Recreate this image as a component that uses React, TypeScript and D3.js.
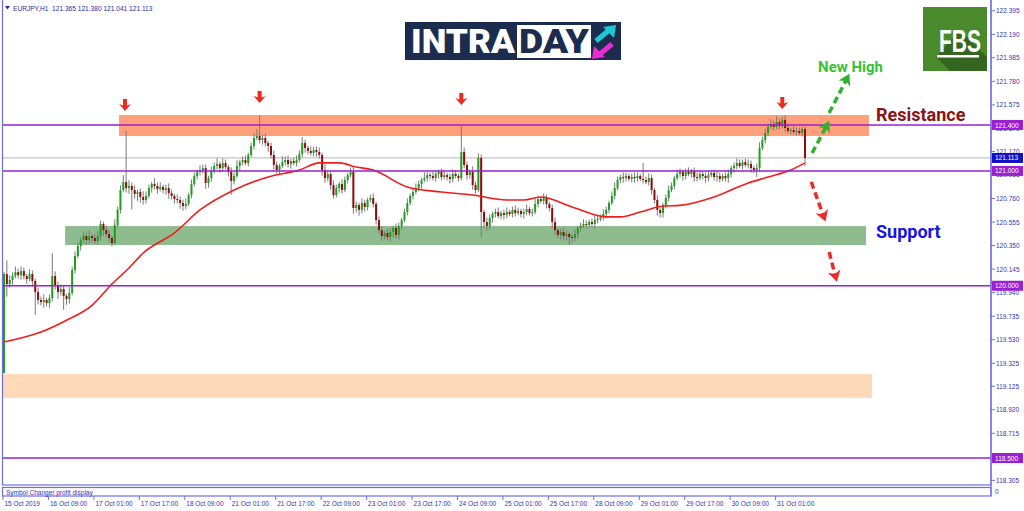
import React, { useRef, useEffect } from 'react';
import * as d3 from 'd3';

// EURJPY H1, 15 Oct 2019 - 31 Oct 2019
const firstOpen = 119.24;
const closes = [
  120.102, 120.015, 120.050, 120.085, 120.119, 120.093, 120.128, 120.085, 120.058, 120.102,
  120.041, 119.945, 119.876, 119.858, 119.876, 119.849, 119.893, 120.085, 120.006, 119.945,
  119.971, 119.910, 119.884, 119.937, 120.137, 120.259, 120.346, 120.398, 120.433, 120.398,
  120.433, 120.416, 120.390, 120.433, 120.538, 120.485, 120.451, 120.416, 120.372, 120.529,
  120.660, 120.834, 120.903, 120.851, 120.869, 120.834, 120.799, 120.816, 120.773, 120.747,
  120.782, 120.851, 120.886, 120.869, 120.842, 120.860, 120.834, 120.851, 120.808, 120.782,
  120.755, 120.747, 120.721, 120.694, 120.712, 120.790, 120.886, 120.956, 120.991, 121.008,
  121.025, 120.895, 120.938, 120.999, 121.043, 121.060, 121.025, 121.069, 121.034, 120.991,
  120.912, 120.956, 121.043, 121.078, 121.095, 121.069, 121.139, 121.217, 121.287, 121.304,
  121.269, 121.287, 121.243, 121.217, 121.139, 121.052, 121.008, 121.043, 121.078, 121.095,
  121.060, 121.086, 121.069, 121.095, 121.147, 121.243, 121.200, 121.174, 121.156, 121.182,
  121.165, 121.139, 121.008, 120.938, 120.973, 120.877, 120.790, 120.851, 120.886, 120.834,
  120.921, 120.964, 120.991, 120.677, 120.703, 120.660, 120.721, 120.686, 120.747, 120.764,
  120.712, 120.572, 120.485, 120.433, 120.459, 120.424, 120.468, 120.503, 120.442, 120.520,
  120.572, 120.642, 120.721, 120.782, 120.816, 120.851, 120.886, 120.921, 120.938, 120.964,
  120.956, 120.938, 120.973, 120.991, 120.947, 120.964, 120.947, 120.930, 120.973, 120.956,
  120.938, 121.165, 121.052, 120.964, 120.991, 120.877, 120.834, 121.113, 120.642, 120.555,
  120.520, 120.590, 120.625, 120.642, 120.607, 120.633, 120.616, 120.642, 120.625, 120.660,
  120.633, 120.651, 120.625, 120.642, 120.668, 120.633, 120.642, 120.712, 120.755, 120.738,
  120.764, 120.712, 120.677, 120.555, 120.485, 120.442, 120.468, 120.433, 120.451, 120.424,
  120.416, 120.451, 120.503, 120.520, 120.538, 120.529, 120.555, 120.538, 120.572, 120.581,
  120.599, 120.625, 120.660, 120.721, 120.782, 120.851, 120.921, 120.947, 120.938, 120.956,
  120.930, 120.947, 120.938, 120.956, 120.930, 120.921, 120.903, 120.938, 120.834, 120.747,
  120.660, 120.633, 120.703, 120.764, 120.834, 120.869, 120.938, 120.973, 120.991, 120.956,
  120.991, 120.973, 120.999, 120.947, 120.938, 120.973, 120.956, 120.938, 120.964, 120.982,
  120.947, 120.956, 120.930, 120.956, 120.938, 120.973, 121.025, 121.043, 121.069, 121.043,
  121.078, 121.052, 121.060, 121.025, 121.008, 121.025, 121.200, 121.269, 121.330, 121.383,
  121.409, 121.383, 121.426, 121.391, 121.444, 121.374, 121.348, 121.356, 121.339, 121.348,
  121.330, 121.365, 121.113,
];
// wick lengths in pips above / below the body
const upWick = [
  2, 12, 4, 3, 5, 3, 4, 3, 2, 4, 3, 2, 4, 3, 5, 2, 3, 20, 4, 3,
  4, 3, 2, 5, 3, 4, 3, 2, 4, 3, 5, 2, 3, 4, 3, 2, 4, 3, 2, 5,
  3, 4, 6, 45, 5, 3, 4, 2, 3, 5, 4, 3, 2, 5, 3, 4, 2, 3, 4, 3,
  2, 4, 3, 3, 5, 2, 4, 3, 2, 4, 3, 3, 2, 4, 3, 5, 2, 4, 3, 2,
  4, 3, 5, 2, 3, 4, 2, 3, 4, 6, 18, 3, 4, 2, 3, 4, 3, 2, 5, 3,
  4, 2, 3, 4, 3, 5, 3, 2, 4, 3, 3, 4, 2, 5, 3, 2, 4, 3, 2, 4,
  3, 2, 4, 4, 3, 2, 4, 3, 2, 3, 4, 2, 3, 3, 2, 4, 3, 2, 4, 3,
  2, 3, 4, 2, 3, 4, 3, 2, 5, 3, 2, 4, 3, 2, 3, 4, 2, 3, 4, 3,
  2, 23, 4, 3, 2, 5, 3, 4, 3, 2, 4, 3, 2, 3, 4, 2, 3, 4, 2, 3,
  4, 3, 2, 3, 4, 2, 3, 5, 3, 2, 4, 3, 2, 3, 4, 2, 3, 4, 3, 2,
  3, 4, 2, 3, 4, 3, 2, 3, 4, 3, 2, 4, 3, 2, 4, 5, 3, 2, 4, 3,
  2, 3, 4, 3, 2, 14, 3, 4, 3, 2, 4, 3, 2, 3, 4, 3, 2, 4, 3, 2,
  3, 4, 2, 3, 4, 3, 2, 3, 4, 2, 3, 4, 3, 2, 3, 4, 2, 3, 4, 3,
  2, 3, 4, 3, 2, 4, 5, 3, 4, 3, 4, 3, 5, 3, 3, 4, 3, 2, 4, 3,
  3, 2, 2,
];
const downWick = [
  0, 11, 3, 4, 2, 3, 4, 3, 4, 2, 5, 20, 4, 3, 5, 3, 4, 3, 4, 6,
  3, 12, 5, 4, 2, 3, 2, 4, 3, 4, 3, 4, 2, 3, 4, 5, 3, 4, 3, 2,
  2, 3, 2, 4, 5, 17, 4, 6, 5, 4, 3, 2, 4, 3, 4, 2, 3, 4, 5, 3,
  4, 3, 5, 4, 3, 2, 3, 2, 3, 3, 3, 5, 4, 3, 2, 3, 4, 3, 2, 4,
  12, 3, 2, 4, 3, 2, 3, 2, 3, 2, 3, 4, 3, 5, 3, 4, 3, 4, 2, 3,
  3, 4, 2, 3, 2, 3, 4, 3, 2, 3, 4, 3, 5, 4, 3, 4, 3, 2, 4, 3,
  2, 3, 2, 5, 4, 5, 3, 4, 3, 2, 3, 4, 3, 4, 3, 3, 4, 5, 3, 4,
  3, 2, 3, 2, 3, 2, 3, 4, 2, 3, 3, 2, 3, 4, 3, 2, 3, 4, 3, 2,
  3, 2, 3, 4, 3, 4, 3, 2, 22, 5, 4, 3, 4, 3, 2, 3, 4, 3, 2, 3,
  3, 2, 3, 4, 3, 2, 3, 2, 3, 2, 3, 4, 3, 5, 4, 3, 4, 3, 4, 7,
  4, 3, 4, 3, 2, 3, 2, 3, 4, 3, 2, 3, 4, 3, 2, 3, 2, 3, 4, 3,
  2, 3, 4, 3, 2, 3, 2, 3, 4, 3, 5, 4, 4, 3, 3, 2, 3, 2, 3, 4,
  3, 2, 3, 4, 3, 2, 3, 4, 3, 2, 3, 4, 3, 2, 3, 4, 3, 4, 3, 2,
  3, 2, 3, 4, 3, 6, 3, 2, 3, 3, 2, 3, 2, 3, 2, 3, 2, 3, 2, 3,
  2, 3, 7,
];

// moving average read at a few bars
const maBars = [0, 6, 13, 22, 31, 38, 44, 49, 60, 69, 81, 93, 104, 111, 118, 124, 130, 142, 154, 165,
  177, 183, 189, 200, 212, 217, 224, 232, 238, 250, 262, 269, 277, 282];
const maValues = [119.51, 119.545, 119.597, 119.70, 119.83, 120.015, 120.155, 120.285, 120.46, 120.66,
  120.834, 120.947, 121.008, 121.07, 121.07, 121.034, 121.008, 120.86, 120.816, 120.79,
  120.747, 120.747, 120.773, 120.686, 120.60, 120.60, 120.642, 120.694, 120.70, 120.773,
  120.895, 120.947, 121.008, 121.07];

const priceTicks = [122.395, 122.190, 121.985, 121.780, 121.575, 121.370, 121.170, 120.965, 120.760,
  120.555, 120.350, 120.145, 119.940, 119.735, 119.530, 119.325, 119.125, 118.920, 118.715, 118.305];
const timeLabels = ['15 Oct 2019', '16 Oct 09:00', '17 Oct 01:00', '17 Oct 17:00', '18 Oct 09:00',
  '21 Oct 01:00', '21 Oct 17:00', '22 Oct 09:00', '23 Oct 01:00', '23 Oct 17:00', '24 Oct 09:00',
  '25 Oct 01:00', '25 Oct 17:00', '28 Oct 09:00', '29 Oct 01:00', '29 Oct 17:00', '30 Oct 09:00', '31 Oct 01:00'];
const barsPerLabel = 16;

const levels = [121.4, 121.0, 120.0, 118.5];
const lastPrice = 121.113;
const header = 'EURJPY,H1  121.365 121.380 121.041 121.113';

// zones: [fromBar, toBar, lowPrice, highPrice]
const resistanceZone = [40.5, 304.5, 121.304, 121.487];
const supportZone = [21.5, 303.5, 120.355, 120.520];
const lowerZone = [-0.4, 305.6, 119.022, 119.231];

// top markers [bar, tip price]
const peakMarks = [[42.6, 121.522], [90, 121.592], [161, 121.574], [274, 121.539]];
// dashed arrows [fromBar, fromPrice, toBar, toPrice]
const upArrows = [[284.5, 121.156, 289.4, 121.383], [290.5, 121.505, 296.5, 121.792]];
const downArrows = [[284.2, 120.904, 288.4, 120.616], [290.5, 120.294, 292.6, 120.093]];

function Chart() {
  const ref = useRef<SVGSVGElement>(null);

  useEffect(() => {
    const svg = d3.select(ref.current);
    svg.selectAll('*').remove();

    const width = 1024, height = 511;
    const axisX = 991, mainBottom = 485;
    const font = "'Liberation Sans', Arial, sans-serif";
    const frameColor = '#6e6ee2';
    const textBlue = '#3434b8';

    svg.attr('width', width).attr('height', height).style('display', 'block').style('background', '#fff');

    const x = d3.scaleLinear().domain([0, closes.length - 1]).range([4, 805]);
    const y = d3.scaleLinear().domain([118.5, 121.4]).range([458, 125]);

    svg.append('clipPath').attr('id', 'plot')
      .append('rect').attr('x', 3).attr('y', 0).attr('width', axisX - 3).attr('height', mainBottom);

    const plot = svg.append('g').attr('clip-path', 'url(#plot)');

    const zone = (z, color) => {
      plot.append('rect')
        .attr('x', x(z[0])).attr('width', x(z[1]) - x(z[0]))
        .attr('y', y(z[3])).attr('height', y(z[2]) - y(z[3]))
        .attr('fill', color);
    };
    zone(lowerZone, '#ffdab9');
    zone(supportZone, '#8fbc8f');
    zone(resistanceZone, '#ffa07a');

    plot.append('line')
      .attr('x1', 3).attr('x2', axisX).attr('y1', y(lastPrice)).attr('y2', y(lastPrice))
      .attr('stroke', '#c4c4c4').attr('stroke-width', 1.3);

    const candles = closes.map((c, i) => {
      const o = i === 0 ? firstOpen : closes[i - 1];
      return { i, o, c, h: Math.max(o, c) + upWick[i] / 100, l: Math.min(o, c) - downWick[i] / 100 };
    });

    plot.selectAll('.wick').data(candles).enter().append('line')
      .attr('x1', (d) => x(d.i)).attr('x2', (d) => x(d.i))
      .attr('y1', (d) => y(d.h)).attr('y2', (d) => y(d.l))
      .attr('stroke', '#7a7a7a').attr('stroke-width', 1);

    plot.selectAll('.body').data(candles).enter().append('rect')
      .attr('x', (d) => x(d.i) - 1).attr('width', 2)
      .attr('y', (d) => y(Math.max(d.o, d.c)))
      .attr('height', (d) => Math.max(1, Math.abs(y(d.o) - y(d.c))))
      .attr('fill', (d) => (d.c >= d.o ? '#1f9e1f' : '#8b0d0d'));

    const ma = d3.line()
      .x((d) => x(d[0]))
      .y((d) => y(d[1]))
      .curve(d3.curveMonotoneX);
    plot.append('path')
      .datum(maBars.map((b, k) => [b, maValues[k]]))
      .attr('fill', 'none').attr('stroke', '#f21c1c').attr('stroke-width', 1.6)
      .attr('d', ma);

    levels.forEach((lv) => {
      plot.append('line')
        .attr('x1', 3).attr('x2', axisX).attr('y1', y(lv)).attr('y2', y(lv))
        .attr('stroke', '#9a1fd0').attr('stroke-width', 1.6);
    });

    // top markers
    peakMarks.forEach(([b, p]) => {
      const tx = x(b), ty = y(p);
      svg.append('path')
        .attr('d', `M${tx},${ty} L${tx - 6},${ty - 7} L${tx - 2},${ty - 5.5} L${tx - 2},${ty - 12} L${tx + 2},${ty - 12} L${tx + 2},${ty - 5.5} L${tx + 6},${ty - 7} Z`)
        .attr('fill', '#f0281e');
    });

    const dashedArrow = (a, color) => {
      const x1 = x(a[0]), y1 = y(a[1]), x2 = x(a[2]), y2 = y(a[3]);
      svg.append('line')
        .attr('x1', x1).attr('y1', y1).attr('x2', x2).attr('y2', y2)
        .attr('stroke', color).attr('stroke-width', 3.5).attr('stroke-dasharray', '7,4');
      const ang = Math.atan2(y2 - y1, x2 - x1);
      const ux = Math.cos(ang), uy = Math.sin(ang);
      const px = -uy, py = ux;
      const tip = [x2 + ux * 7, y2 + uy * 7];
      const notch = [x2 - ux * 1, y2 - uy * 1];
      const left = [x2 - ux * 4 + px * 6.5, y2 - uy * 4 + py * 6.5];
      const right = [x2 - ux * 4 - px * 6.5, y2 - uy * 4 - py * 6.5];
      svg.append('path')
        .attr('d', `M${tip[0]},${tip[1]} L${left[0]},${left[1]} L${notch[0]},${notch[1]} L${right[0]},${right[1]} Z`)
        .attr('fill', color);
    };
    upArrows.forEach((a) => dashedArrow(a, '#2eb22e'));
    downArrows.forEach((a) => dashedArrow(a, '#ee2a2a'));

    svg.append('text')
      .attr('x', x(307)).attr('y', y(121.435))
      .attr('font-family', 'Roboto, sans-serif').attr('font-weight', 'bold').attr('font-size', 18)
      .attr('fill', '#8b1515').text('Resistance');
    svg.append('text')
      .attr('x', x(307)).attr('y', y(120.416))
      .attr('font-family', 'Roboto, sans-serif').attr('font-weight', 'bold').attr('font-size', 18)
      .attr('fill', '#1414e6').text('Support');
    svg.append('text')
      .attr('x', x(286.6)).attr('y', y(121.862))
      .attr('font-family', 'Roboto, sans-serif').attr('font-weight', 'bold').attr('font-size', 15)
      .attr('fill', '#35c235').text('New High');

    // INTRADAY logo
    const logo = svg.append('g');
    logo.append('rect').attr('x', 405).attr('y', 22).attr('width', 216).attr('height', 38).attr('fill', '#1b2c4f');
    logo.append('text').attr('x', 411).attr('y', 53)
      .attr('font-family', 'Roboto, sans-serif').attr('font-weight', 900).attr('font-size', 33)
      .attr('textLength', 104).attr('lengthAdjust', 'spacingAndGlyphs')
      .attr('fill', '#fff').text('INTRA');
    logo.append('rect').attr('x', 517).attr('y', 25).attr('width', 74).attr('height', 33).attr('fill', '#fff');
    logo.append('text').attr('x', 519).attr('y', 53)
      .attr('font-family', 'Roboto, sans-serif').attr('font-weight', 900).attr('font-size', 33)
      .attr('textLength', 70).attr('lengthAdjust', 'spacingAndGlyphs')
      .attr('fill', '#1b2c4f').text('DAY');
    logo.append('line').attr('x1', 596).attr('y1', 41).attr('x2', 608).attr('y2', 31)
      .attr('stroke', '#1ec8d2').attr('stroke-width', 5);
    logo.append('path').attr('d', 'M616,25 L603,27 L614,38 Z').attr('fill', '#1ec8d2');
    logo.append('line').attr('x1', 612).attr('y1', 44).attr('x2', 600).attr('y2', 54)
      .attr('stroke', '#ea2bd0').attr('stroke-width', 5);
    logo.append('path').attr('d', 'M592,59 L605,57 L594,46 Z').attr('fill', '#ea2bd0');

    // FBS logo
    const fbs = svg.append('g');
    fbs.append('rect').attr('x', 923).attr('y', 7).attr('width', 64).attr('height', 64).attr('fill', '#4b8a2c');
    fbs.append('path').attr('d', 'M960,30 L987,57 L987,71 L950,71 L936,57 Z').attr('fill', '#35661f');
    fbs.append('text')
      .attr('transform', 'translate(939,52) scale(1,1.45)')
      .attr('font-family', "'Liberation Sans Narrow', 'Liberation Sans', sans-serif").attr('font-weight', 'bold')
      .attr('font-size', 21)
      .attr('fill', '#fff').text('FBS');
    fbs.append('rect').attr('x', 937).attr('y', 55).attr('width', 42).attr('height', 2.5).attr('fill', '#fff');

    // frames
    svg.append('rect').attr('x', 2.5).attr('y', -1).attr('width', axisX - 2.5).attr('height', mainBottom + 1)
      .attr('fill', 'none').attr('stroke', frameColor).attr('stroke-width', 1.2);
    svg.append('rect').attr('x', 2.5).attr('y', 487.5).attr('width', axisX - 2.5).attr('height', 8.5)
      .attr('fill', 'none').attr('stroke', frameColor).attr('stroke-width', 1.2);
    svg.append('text').attr('x', 6).attr('y', 494.5)
      .attr('font-family', font).attr('font-size', 6.5).attr('fill', textBlue)
      .text('Symbol Changer profit display');
    svg.append('text').attr('x', 995).attr('y', 494)
      .attr('font-family', font).attr('font-size', 6.5).attr('fill', textBlue).text('0');

    // header
    svg.append('path').attr('d', 'M5,6 L10,6 L7.5,9.5 Z').attr('fill', '#2a2aa8');
    svg.append('text').attr('x', 13).attr('y', 10.5)
      .attr('font-family', font).attr('font-size', 6.6).attr('fill', '#2a2aa8')
      .attr('xml:space', 'preserve').style('white-space', 'pre').text(header);

    // price axis
    const axis = svg.append('g');
    axis.append('line').attr('x1', axisX).attr('x2', axisX).attr('y1', 0).attr('y2', 496)
      .attr('stroke', frameColor).attr('stroke-width', 1.2);
    priceTicks.forEach((t) => {
      axis.append('line').attr('x1', axisX).attr('x2', axisX + 4).attr('y1', y(t)).attr('y2', y(t))
        .attr('stroke', frameColor);
      axis.append('text').attr('x', 996).attr('y', y(t) + 2.5)
        .attr('font-family', font).attr('font-size', 6.5).attr('fill', textBlue)
        .text(d3.format('.3f')(t));
    });

    const tag = (p, fill) => {
      axis.append('rect').attr('x', 992).attr('y', y(p) - 5).attr('width', 31).attr('height', 10).attr('fill', fill);
      axis.append('text').attr('x', 995).attr('y', y(p) + 2.5)
        .attr('font-family', font).attr('font-size', 6.5).attr('fill', '#fff')
        .text(d3.format('.3f')(p));
    };
    levels.forEach((lv) => tag(lv, '#9a1fd0'));
    tag(lastPrice, '#1010c4');

    // time axis
    timeLabels.forEach((lbl, k) => {
      const tx = k === 0 ? 3 : x(k * barsPerLabel) - 1;
      svg.append('line').attr('x1', tx).attr('x2', tx).attr('y1', 496).attr('y2', 500)
        .attr('stroke', frameColor);
      svg.append('text').attr('x', tx + 1.5).attr('y', 506)
        .attr('font-family', font).attr('font-size', 6.5).attr('fill', textBlue).text(lbl);
    });
  }, []);

  return <svg ref={ref}></svg>;
}

export default function App() {
  return (
    <div style={{ position: 'absolute', left: 0, top: 0 }}>
      <Chart />
    </div>
  );
}
